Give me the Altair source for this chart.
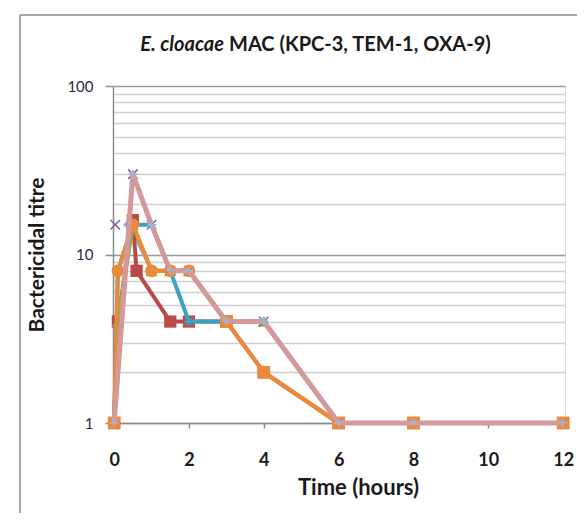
import altair as alt
import pandas as pd

# ---- data ----
times = [0, 0.1, 0.5, 1, 1.5, 2, 3, 4, 6, 8, 12]

series_names = ["Light blue", "Red", "Green", "Purple", "Teal", "Orange", "Pink"]
series_values = {
    "Light blue": [1, 8, 15, 8, 8, 8, 4, 2, 1, 1, 1],
    "Red":        [1, 4, 16, 8, 4, 4, 4, 2, 1, 1, 1],
    "Green":      [1, 4, 15, 8, 8, 8, 4, 4, 1, 1, 1],
    "Purple":     [1, 15, 30, 15, 8, 8, 4, 4, 1, 1, 1],
    "Teal":       [1, 8, 15, 15, 8, 4, 4, 4, 1, 1, 1],
    "Orange":     [1, 8, 15, 8, 8, 8, 4, 2, 1, 1, 1],
    "Pink":       [1, None, 30, 15, 8, 8, 4, 4, 1, 1, 1],
}
series_times = {
    "Light blue": [0, 0.1, 0.4, 1, 1.5, 2, 3, 4, 6, 8, 12],
    "Red": [0, 0.1, 0.5, 0.6, 1.5, 2, 3, 4, 6, 8, 12],
    "Purple": [0, 0.03, 0.5, 1, 1.5, 2, 3, 4, 6, 8, 12],
}
series_colors = {
    "Light blue": "#8DB3E2",
    "Red": "#B94A48",
    "Green": "#8DB04D",
    "Purple": "#8064A2",
    "Teal": "#3AA3BF",
    "Orange": "#EB8A3A",
    "Pink": "#D49A9A",
}
series_shapes = {
    "Light blue": "diamond",
    "Red": "square",
    "Green": "triangle-up",
    "Purple": "M-1,-1L1,1M-1,1L1,-1",
    "Teal": "M-1,0L1,0M0,-1L0,1M-0.75,-0.75L0.75,0.75M-0.75,0.75L0.75,-0.75",
    "Orange": "circle",
    "Pink": "cross",
}
stroked = {"Purple", "Teal"}
line_widths = {"Pink": 5, "Light blue": 3}
# points shown only as markers (line segment hidden under the pink line in the picture)
marker_only = {"Purple": [0.03], "Light blue": [0.1]}

# orange markers drawn as squares from 3 h on
orange_square_times = [0, 3, 4, 6, 8, 12]

y_grid = [1, 2, 3, 4, 5, 6, 7, 8, 9, 10, 20, 30, 40, 50, 60, 70, 80, 90, 100]
x_ticks = [0, 2, 4, 6, 8, 10, 12]

W, H = 452, 337
x_scale = alt.Scale(domain=[-0.03, 12.05], nice=False, zero=False)
y_scale = alt.Scale(type="log", domain=[1, 100], nice=False)

major = "datum.value == 1 || datum.value == 10 || datum.value == 100"

x_axis = alt.Axis(
    values=x_ticks, title="Time (hours)", grid=False,
    domainColor="#8c8c8c", domainWidth=1.5,
    tickColor="#8c8c8c", tickSize=5, tickWidth=1.5,
    labelFont="Lato", labelFontSize=18, labelFontWeight="bold", labelColor="#1a1a1a",
    labelPadding=23, titleFont="Lato", titleFontSize=22, titleFontWeight="bold",
    titleColor="#1a1a1a", titlePadding=8, titleX=245, titleAlign="center",
)
y_axis = alt.Axis(
    values=y_grid, title="Bactericidal titre",
    labelExpr=f"({major}) ? format(datum.value, 'd') : ''",
    grid=True,
    gridColor={"condition": {"test": major, "value": "#9a9a9a"}, "value": "#cfcfcf"},
    gridWidth=1.5,
    domainColor="#8c8c8c", domainWidth=1.5,
    tickColor="#8c8c8c", tickSize=8, tickWidth=1.5,
    tickOpacity={"condition": {"test": major, "value": 1}, "value": 0},
    labelFont="Lato", labelFontSize=15, labelColor="#2a2a3a", labelPadding=12,
    titleFont="Lato", titleFontSize=21, titleFontWeight="bold", titleColor="#1a1a1a",
    titlePadding=19,
)


def ex():
    return alt.X("t:Q", scale=x_scale, axis=x_axis)


def ey():
    return alt.Y("v:Q", scale=y_scale, axis=y_axis)


layers = []

for name in series_names:
    ts = series_times.get(name, times)
    rows = [
        {"t": t, "v": v, "series": name}
        for t, v in zip(ts, series_values[name]) if v is not None
    ]
    df = pd.DataFrame(rows)
    line_df = df[~df["t"].isin(marker_only.get(name, []))]
    col = series_colors[name]
    layers.append(
        alt.Chart(line_df).mark_line(
            color=col, strokeWidth=line_widths.get(name, 4), strokeJoin="round", clip=False
        ).encode(x=ex(), y=ey())
    )
    if name == "Orange":
        circ = df[~df["t"].isin(orange_square_times)]
        sq = df[df["t"].isin(orange_square_times)]
        layers.append(
            alt.Chart(circ).mark_point(
                shape="circle", filled=True, size=160, color=col, opacity=1, clip=False
            ).encode(x=ex(), y=ey())
        )
        layers.append(
            alt.Chart(sq).mark_point(
                shape="square", filled=True, size=160, color=col, opacity=1, clip=False
            ).encode(x=ex(), y=ey())
        )
    elif name in stroked:
        layers.append(
            alt.Chart(df).mark_point(
                shape=series_shapes[name], filled=False, size=90, color=col,
                strokeWidth=1.5, opacity=1, clip=False
            ).encode(x=ex(), y=ey())
        )
    elif name == "Pink":
        layers.append(
            alt.Chart(df).mark_point(
                shape="M-1,0L1,0M0,-1L0,1", filled=False, size=70, color="#9DB4D8",
                strokeWidth=1.5, opacity=1, clip=False
            ).encode(x=ex(), y=ey())
        )
    else:
        layers.append(
            alt.Chart(df).mark_point(
                shape=series_shapes[name], filled=True, size=150, color=col,
                opacity=1, clip=False
            ).encode(x=ex(), y=ey())
        )

# frame of the chart (outer border, top and left edges)
frame_df = pd.DataFrame({"k": [0]})
layers.append(
    alt.Chart(frame_df).mark_rule(color="#8a8a8a", strokeWidth=1.5).encode(
        x=alt.value(-93), y=alt.value(-71), y2=alt.value(520)
    )
)
layers.append(
    alt.Chart(frame_df).mark_rule(color="#8a8a8a", strokeWidth=1.5).encode(
        x=alt.value(-93), x2=alt.value(700), y=alt.value(-71)
    )
)

# title: italic species name + regular rest
layers.append(
    alt.Chart(frame_df).mark_text(
        text="E. cloacae", font="Lato", fontSize=20, fontStyle="italic",
        fontWeight="bold", align="right", baseline="middle", color="#1a1a1a"
    ).encode(x=alt.value(111), y=alt.value(-41))
)
layers.append(
    alt.Chart(frame_df).mark_text(
        text="MAC (KPC-3, TEM-1, OXA-9)", font="Lato", fontSize=20,
        fontWeight="bold", align="left", baseline="middle", color="#1a1a1a"
    ).encode(x=alt.value(116), y=alt.value(-41))
)

chart = alt.layer(*layers).properties(
    width=W, height=H,
    autosize=alt.AutoSizeParams(type="none"),
    padding={"left": 105, "top": 78, "right": 12, "bottom": 90},
).configure_view(stroke=None).configure(background="white")

chart.save("out.html", embed_options={"renderer": "svg", "actions": False})
